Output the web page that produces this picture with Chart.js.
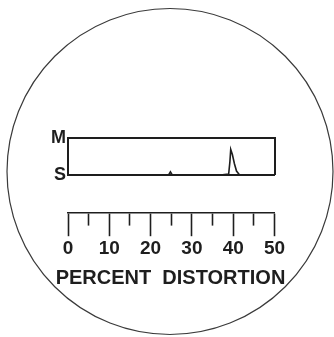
<!DOCTYPE html>
<html>
<head>
<meta charset="utf-8">
<script src="https://cdn.jsdelivr.net/npm/chart.js@4"></script>
<style>
  html, body { margin: 0; padding: 0; background: #fff; }
  #wrap { width: 334px; height: 337px; }
</style>
</head>
<body>
<div id="wrap"><canvas id="chart"></canvas></div>
<script>
// percent distortion on x, trace amplitude between S (0) and M (1)
const distortion = [0, 24.4, 24.8, 25.2, 37.4, 38.9, 39.2, 39.4, 39.8, 40.3, 40.8, 41.5, 50];
const amplitude = [0, 0, 0.08, 0, 0, 0.02, 0.35, 0.69, 0.55, 0.3, 0.1, 0, 0];
const scaleLabels = { 0: 'S', 1: 'M' };
const xTitle = 'PERCENT  DISTORTION';

const ink = '#1e1e1e';
const tickFont = { family: 'Liberation Sans', weight: 'bold', size: 19 };
const titleFont = { family: 'Liberation Sans', weight: 'bold', size: 20 };

// the round frame around the whole dial
const circleFrame = {
  id: 'circleFrame',
  beforeDraw(chart) {
    const c = chart.ctx;
    c.save();
    c.beginPath();
    c.arc(170, 171.5, 163, 0, Math.PI * 2);
    c.strokeStyle = '#3a3a3a';
    c.lineWidth = 1.2;
    c.stroke();
    c.restore();
  }
};

const ctx = document.getElementById('chart').getContext('2d');
const myChart = new Chart(ctx, {
  type: 'line',
  data: {
    datasets: [{
      data: distortion.map((d, i) => ({ x: d, y: amplitude[i] })),
      borderColor: ink,
      borderWidth: 1.6,
      pointRadius: 0,
      tension: 0
    }]
  },
  options: {
    responsive: true,
    maintainAspectRatio: false,
    animation: false,
    layout: { padding: { left: 20, right: 13, top: 138, bottom: 43 } },
    plugins: {
      legend: { display: false },
      tooltip: { enabled: false },
      title: {
        display: true, position: 'bottom', text: xTitle,
        color: ink, font: titleFont, padding: { top: 5, bottom: 4 }
      }
    },
    scales: {
      x: {
        type: 'linear', position: 'bottom', min: 0, max: 50,
        ticks: { display: false },
        grid: { drawOnChartArea: false, tickLength: 38.5, tickColor: 'rgba(0,0,0,0)' },
        border: { color: ink, width: 2 }
      },
      x2: {
        type: 'linear', position: 'bottom', min: 0, max: 50,
        ticks: {
          stepSize: 5, autoSkip: false, maxRotation: 0, padding: 1,
          color: ink, font: tickFont,
          callback: v => (v % 10 === 0 ? v : '')
        },
        grid: {
          drawOnChartArea: false, tickLength: 23, tickWidth: 1.6, tickColor: ink,
          tickBorderDash: c => (c.tick && c.tick.value % 10 !== 0 ? [12, 40] : [])
        },
        border: { color: ink, width: 1.6 }
      },
      xTop: {
        type: 'linear', position: 'top', min: 0, max: 50,
        ticks: { display: false },
        grid: { drawOnChartArea: false, drawTicks: false },
        border: { color: ink, width: 2 }
      },
      y: {
        min: 0, max: 1,
        afterFit: s => { s.width = 48; },
        ticks: {
          stepSize: 1, padding: 2, color: ink,
          font: { family: 'Liberation Sans', weight: 'bold', size: 18 },
          callback: v => scaleLabels[v] || ''
        },
        grid: { drawOnChartArea: false, drawTicks: false },
        border: { color: ink, width: 2 }
      },
      y2: {
        position: 'right', min: 0, max: 1,
        afterFit: s => { s.width = 46.5; },
        ticks: { display: false },
        grid: { drawOnChartArea: false, drawTicks: false },
        border: { color: ink, width: 2 }
      }
    }
  },
  plugins: [circleFrame]
});
</script>
</body>
</html>
